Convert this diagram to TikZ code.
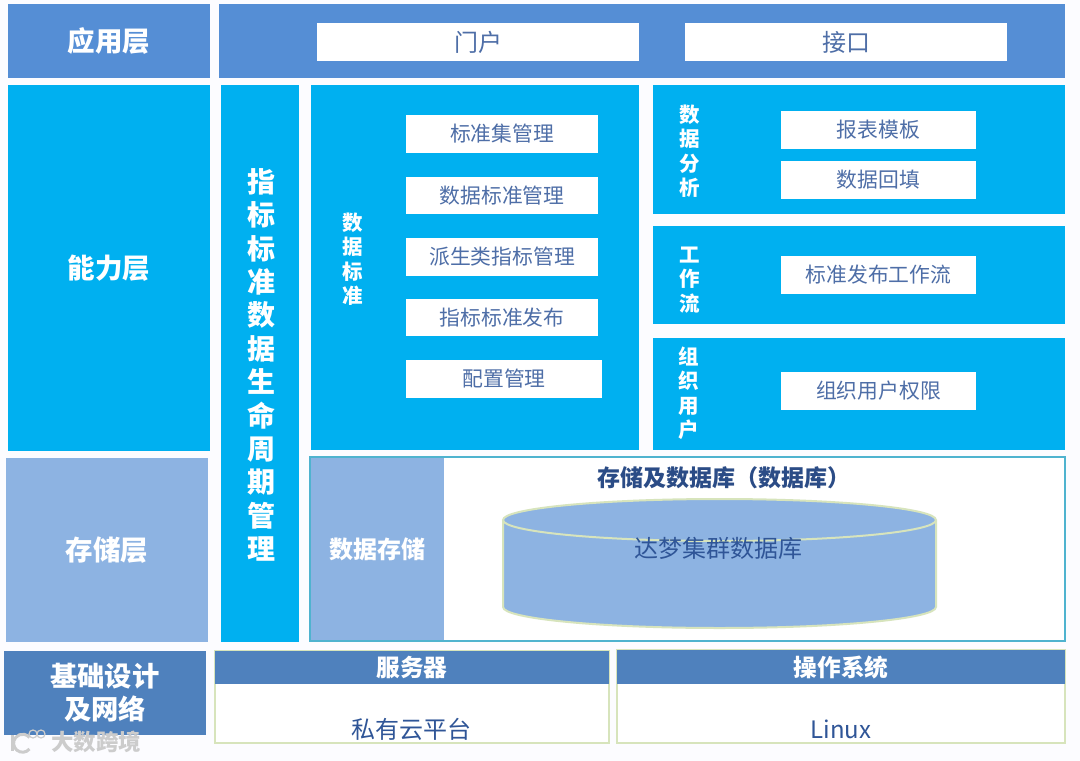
\documentclass[tikz,border=0pt]{standalone}
\usepackage{fontspec}
\setmainfont{Noto Sans CJK SC}
\usepackage{xcolor}
\usetikzlibrary{positioning}
\definecolor{appblue}{HTML}{558ED5}
\definecolor{capblue}{HTML}{00B0F0}
\definecolor{storeblue}{HTML}{8DB3E2}
\definecolor{baseblue}{HTML}{4F81BD}
\definecolor{inkblue}{HTML}{2F5597}
\definecolor{titleblue}{HTML}{2B4C86}
\definecolor{paleedge}{HTML}{D7E4BC}
\definecolor{tealedge}{HTML}{4FB3CF}
\tikzset{
  layer/.style={rectangle, inner sep=0pt, outer sep=0pt, align=center, text=white,
    font=\fontsize{27.5}{33}\selectfont\bfseries},
  panel/.style={rectangle, inner sep=0pt, outer sep=0pt, fill=capblue},
  sidetag/.style={inner sep=0pt, align=center, text=white,
    font=\fontsize{20.5}{24.5}\selectfont\bfseries},
  item/.style={rectangle, fill=white, inner sep=0pt, outer sep=0pt, text=inkblue!85,
    font=\fontsize{20.8}{25}\selectfont},
  head/.style={rectangle, fill=baseblue, inner sep=0pt, outer sep=0pt, text=white,
    font=\fontsize{23.7}{26}\selectfont\bfseries},
  body/.style={rectangle, draw=paleedge, line width=1.5pt, fill=white, inner sep=0pt,
    text=inkblue, font=\fontsize{24}{28}\selectfont},
  wmark/.style={draw=black!20, line width=2pt},
}
\begin{document}
\begin{tikzpicture}[x=1pt,y=-1pt]
  \useasboundingbox (0,0) rectangle (1080,761);
  \fill[blue!1] (0,0) rectangle (1080,761);
  % application layer
  \node[layer, fill=appblue, minimum width=202pt, minimum height=74pt] (applayer) at (109,41) {应用层};
  \node[panel, fill=appblue, minimum width=846pt, minimum height=74pt] (appbar) at (642,41) {};
  \node[item, font=\fontsize{24}{28}\selectfont, minimum width=322pt, minimum height=38pt] (portal) at (478,42) {门户};
  \node[item, font=\fontsize{24}{28}\selectfont, minimum width=322pt, minimum height=38pt] (iface) at (846,42) {接口};
  % capability layer
  \node[layer, fill=capblue, minimum width=202pt, minimum height=366pt] (caplayer) at (109,268) {能力层};
  \node[panel, minimum width=78pt, minimum height=557pt] (lifebar) at (260,363.5) {};
  \node[sidetag, font=\fontsize{28}{33.4}\selectfont\bfseries] (lifetag) at (261,365) {指\\标\\标\\准\\数\\据\\生\\命\\周\\期\\管\\理};
  % data standard
  \node[panel, minimum width=328pt, minimum height=365pt] (stdpanel) at (475,267.5) {};
  \node[sidetag] (stdtag) at (353,259) {数\\据\\标\\准};
  \node[item, minimum width=192pt, minimum height=38pt] (std1) at (502,134) {标准集管理};
  \node[item, minimum width=192pt, minimum height=37pt] (std2) at (502,195.5) {数据标准管理};
  \node[item, minimum width=192pt, minimum height=38pt] (std3) at (502,257) {派生类指标管理};
  \node[item, minimum width=192pt, minimum height=37pt] (std4) at (502,317.5) {指标标准发布};
  \node[item, minimum width=196pt, minimum height=38pt] (std5) at (504,379) {配置管理};
  % right panels
  \node[panel, minimum width=412pt, minimum height=129pt] (anapanel) at (859,149.5) {};
  \node[sidetag] (anatag) at (690,151) {数\\据\\分\\析};
  \node[item, minimum width=195pt, minimum height=38pt] (ana1) at (878.5,129.5) {报表模板};
  \node[item, minimum width=195pt, minimum height=38pt] (ana2) at (878.5,179.5) {数据回填};
  \node[panel, minimum width=412pt, minimum height=98pt] (flowpanel) at (859,275) {};
  \node[sidetag] (flowtag) at (690,280) {工\\作\\流};
  \node[item, minimum width=195pt, minimum height=38pt] (flow1) at (878.5,275) {标准发布工作流};
  \node[panel, minimum width=412pt, minimum height=112pt] (orgpanel) at (859,394) {};
  \node[sidetag] (orgtag) at (689,393) {组\\织\\用\\户};
  \node[item, minimum width=195pt, minimum height=38pt] (org1) at (878.5,391) {组织用户权限};
  % storage layer
  \node[layer, fill=storeblue, minimum width=202pt, minimum height=184pt] (storelayer) at (107,550) {存储层};
  \node[rectangle, draw=tealedge, line width=1.6pt, fill=white, inner sep=0pt,
    minimum width=755pt, minimum height=184pt] (storebox) at (687.5,549) {};
  \node[layer, fill=storeblue, font=\fontsize{24}{28}\selectfont\bfseries,
    minimum width=133pt, minimum height=182pt] (storetag) at (377,549) {数据存储};
  \node[text=titleblue, inner sep=0pt, font=\fontsize{23}{28}\selectfont\bfseries] (dbtitle) at (724,478) {存储及数据库（数据库）};
  \filldraw[fill=storeblue, draw=paleedge, line width=2pt]
    (503,520) -- (503,607) arc[start angle=180, end angle=360, x radius=216.5, y radius=-21]
    -- (936,520) arc[start angle=0, end angle=360, x radius=216.5, y radius=-21];
  \node[text=inkblue, inner sep=0pt, font=\fontsize{24}{28}\selectfont] (dbname) at (718,548) {达梦集群数据库};
  % base layer
  \node[layer, fill=baseblue, minimum width=202pt, minimum height=84pt,
    font=\fontsize{27.3}{33}\selectfont\bfseries] (baselayer) at (105,693) {基础设计\\及网络};
  \node[body, minimum width=394pt, minimum height=92pt] (srvbody) at (412,697) {};
  \node[head, minimum width=394pt, minimum height=33pt] (srvhead) at (412,667.5) {服务器};
  \node[text=inkblue, inner sep=0pt, font=\fontsize{24}{28}\selectfont] (srvname) at (411,729) {私有云平台};
  \node[body, minimum width=448pt, minimum height=93pt] (osbody) at (841,696.5) {};
  \node[head, minimum width=448pt, minimum height=34pt] (oshead) at (841,667) {操作系统};
  \node[text=inkblue, inner sep=0pt, font=\fontsize{24}{28}\selectfont] (osname) at (841,729) {Linux};
  % watermark
  \node[text=black!20, inner sep=0pt, font=\fontsize{22.5}{26}\selectfont\bfseries] (mark) at (96,742) {大数跨境};
  \draw[wmark, line width=3pt] (12,735) -- (12,751);
  \draw[wmark, line width=3pt] (29.5,749) arc[start angle=-40, end angle=-320, x radius=9, y radius=-9];
  \draw[wmark, line width=1.2pt] (33,734) circle[radius=4];
  \draw[wmark, line width=1.2pt] (41,734) circle[radius=4];
\end{tikzpicture}
\end{document}
